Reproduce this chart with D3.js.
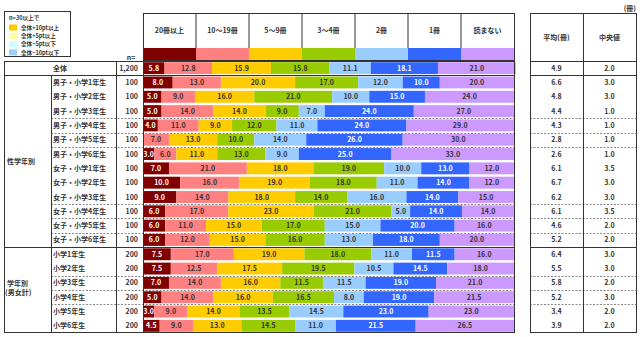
<!DOCTYPE html>
<html>
<head>
<meta charset="utf-8">
<script src="https://cdn.jsdelivr.net/npm/d3@7"></script>
<style>
    body { margin: 0; background: #fff; }
    text { font-family: "Noto Sans CJK JP", sans-serif; font-size: 7px; font-weight: bold; fill: #333; }
    .legend text { font-size: 5.6px; }
</style>
</head>
<body>
<div id="chart"></div>
<script>

// categories (冊数)
const categories = ["20冊以上", "10～19冊", "5～9冊", "3～4冊", "2冊", "1冊", "読まない"];
const colors = ["#800000", "#FF8080", "#FFCC00", "#99CC00", "#99CCFF", "#3366FF", "#CC99FF"];

const rowLabels = ["全体",
    "男子・小学1年生", "男子・小学2年生", "男子・小学3年生", "男子・小学4年生", "男子・小学5年生", "男子・小学6年生",
    "女子・小学1年生", "女子・小学2年生", "女子・小学3年生", "女子・小学4年生", "女子・小学5年生", "女子・小学6年生",
    "小学1年生", "小学2年生", "小学3年生", "小学4年生", "小学5年生", "小学6年生"];
const rowN = ["1,200", "100", "100", "100", "100", "100", "100", "100", "100", "100", "100", "100", "100",
    "200", "200", "200", "200", "200", "200"];

const values = [
    [5.8, 12.8, 15.9, 15.8, 11.1, 18.1, 21.0],
    [8.0, 13.0, 20.0, 17.0, 12.0, 10.0, 20.0],
    [5.0, 9.0, 16.0, 21.0, 10.0, 15.0, 24.0],
    [5.0, 14.0, 14.0, 9.0, 7.0, 24.0, 27.0],
    [4.0, 11.0, 9.0, 12.0, 11.0, 24.0, 29.0],
    [0.0, 7.0, 13.0, 10.0, 14.0, 26.0, 30.0],
    [3.0, 6.0, 11.0, 13.0, 9.0, 25.0, 33.0],
    [7.0, 21.0, 18.0, 19.0, 10.0, 13.0, 12.0],
    [10.0, 16.0, 19.0, 18.0, 11.0, 14.0, 12.0],
    [9.0, 14.0, 18.0, 14.0, 16.0, 14.0, 15.0],
    [6.0, 17.0, 23.0, 21.0, 5.0, 14.0, 14.0],
    [6.0, 11.0, 15.0, 17.0, 15.0, 20.0, 16.0],
    [6.0, 12.0, 15.0, 16.0, 13.0, 18.0, 20.0],
    [7.5, 17.0, 19.0, 18.0, 11.0, 11.5, 16.0],
    [7.5, 12.5, 17.5, 19.5, 10.5, 14.5, 18.0],
    [7.0, 14.0, 16.0, 11.5, 11.5, 19.0, 21.0],
    [5.0, 14.0, 16.0, 16.5, 8.0, 19.0, 21.5],
    [3.0, 9.0, 14.0, 13.5, 14.5, 23.0, 23.0],
    [4.5, 9.0, 13.0, 14.5, 11.0, 21.5, 26.5]
];

const means = [4.9, 6.6, 4.8, 4.4, 4.3, 2.8, 2.6, 6.1, 6.7, 6.2, 6.1, 4.6, 5.2, 6.4, 5.5, 5.8, 5.2, 3.4, 3.9];
const medians = [2.0, 3.0, 3.0, 1.0, 1.0, 1.0, 1.0, 3.5, 3.0, 3.0, 3.5, 2.0, 2.0, 3.0, 3.0, 2.0, 3.0, 2.0, 2.0];

const legendItems = ["全体+10pt以上", "全体+5pt以上", "全体−5pt以下", "全体−10pt以下"];
const legendColors = ["#FFCC00", "#FFFF99", "#CCFFFF", "#99CCFF"];

// rows after which a dashed separator is drawn
const dashedAfter = [3, 4, 5, 9, 10, 11, 14, 15, 16];

const W = 642, H = 337;
const svg = d3.select("#chart").append("svg")
    .attr("width", W)
    .attr("height", H);

const lineColor = "#333";

let x = d3.scaleLinear().domain([0, 100]).range([143, 514]);
let y = d3.scaleBand().domain(d3.range(rowLabels.length)).range([61, 333]);
let hx = d3.scaleBand().domain(categories).range([143, 514]);

// legend
let legend = svg.append("g").attr("class", "legend");
legend.append("rect")
    .attr("x", 4.5).attr("y", 11.5).attr("width", 66).attr("height", 45)
    .attr("fill", "none").attr("stroke", lineColor);
legend.append("text").attr("x", 9).attr("y", 20).text("n=30以上で");
legend.selectAll(".lg")
    .data(legendItems)
    .enter()
    .append("g")
    .attr("transform", (d, i) => `translate(9, ${24.5 + i * 8.3})`)
    .each(function(d, i) {
        d3.select(this).append("rect")
            .attr("width", 8).attr("height", 6)
            .attr("fill", legendColors[i]);
        d3.select(this).append("text")
            .attr("x", 12).attr("y", 5.3).text(d);
    });

svg.append("text").attr("x", 131).attr("y", 60).attr("text-anchor", "middle").text("n=");
svg.append("text").attr("x", 636).attr("y", 11).attr("text-anchor", "end").text("(冊)");

// header of bar columns
let header = svg.append("g").attr("class", "header");
header.selectAll(".swatch")
    .data(categories)
    .enter()
    .append("rect")
    .attr("x", d => hx(d))
    .attr("y", 48)
    .attr("width", hx.bandwidth())
    .attr("height", 12)
    .attr("fill", (d, i) => colors[i]);
header.selectAll(".htext")
    .data(categories)
    .enter()
    .append("text")
    .attr("x", d => hx(d) + hx.bandwidth() / 2)
    .attr("y", 33)
    .attr("text-anchor", "middle")
    .text(d => d);
header.selectAll(".hline")
    .data(categories.slice(1))
    .enter()
    .append("line")
    .attr("x1", d => hx(d)).attr("x2", d => hx(d))
    .attr("y1", 13).attr("y2", 48)
    .attr("stroke", lineColor);
header.append("rect")
    .attr("x", 143.5).attr("y", 13.5).attr("width", 371).attr("height", 47)
    .attr("fill", "none").attr("stroke", lineColor);

// stacked bars
let rows = svg.append("g").attr("class", "bars")
    .selectAll(".row")
    .data(values)
    .enter()
    .append("g")
    .attr("class", "row");

rows.each(function(vals, r) {
    let starts = d3.cumsum([0].concat(vals));
    let segs = vals.map((v, i) => ({v: v, i: i, x0: starts[i]}));
    let g = d3.select(this);
    g.selectAll("rect")
        .data(segs)
        .enter()
        .append("rect")
        .attr("x", d => x(d.x0))
        .attr("y", y(r) + 1.2)
        .attr("width", d => x(d.x0 + d.v) - x(d.x0))
        .attr("height", y.bandwidth() - 2.4)
        .attr("fill", d => colors[d.i]);
    g.selectAll("text")
        .data(segs.filter(d => d.v > 0))
        .enter()
        .append("text")
        .attr("x", d => x(d.x0 + d.v / 2))
        .attr("y", y(r) + y.bandwidth() / 2 + 2.5)
        .attr("text-anchor", "middle")
        .style("fill", d => (d.i === 0 || d.i === 5) ? "#fff" : "#333")
        .text(d => d.v.toFixed(1));
});

// left labels
let labels = svg.append("g").attr("class", "labels");
labels.selectAll(".rl")
    .data(rowLabels)
    .enter()
    .append("text")
    .attr("x", (d, i) => i === 0 ? 60 : 53)
    .attr("y", (d, i) => y(i) + y.bandwidth() / 2 + 2.5)
    .attr("text-anchor", (d, i) => i === 0 ? "middle" : "start")
    .text(d => d);
labels.selectAll(".n")
    .data(rowN)
    .enter()
    .append("text")
    .attr("x", 138)
    .attr("y", (d, i) => y(i) + y.bandwidth() / 2 + 2.5)
    .attr("text-anchor", "end")
    .text(d => d);

labels.append("text").attr("x", 7).attr("y", (y(1) + y(13)) / 2 + 2.5).text("性学年別");
labels.append("text").attr("x", 7).attr("y", 286).text("学年別");
labels.append("text").attr("x", 5).attr("y", 295).text("(男女計)");

// right table
let rt = svg.append("g").attr("class", "right-table");
rt.append("text").attr("x", 556.5).attr("y", 40).attr("text-anchor", "middle").text("平均(冊)");
rt.append("text").attr("x", 609.5).attr("y", 40).attr("text-anchor", "middle").text("中央値");
rt.selectAll(".mean")
    .data(means)
    .enter()
    .append("text")
    .attr("x", 556.5)
    .attr("y", (d, i) => y(i) + y.bandwidth() / 2 + 2.5)
    .attr("text-anchor", "middle")
    .text(d => d.toFixed(1));
rt.selectAll(".median")
    .data(medians)
    .enter()
    .append("text")
    .attr("x", 609.5)
    .attr("y", (d, i) => y(i) + y.bandwidth() / 2 + 2.5)
    .attr("text-anchor", "middle")
    .text(d => d.toFixed(1));

// table lines
let lines = svg.append("g").attr("class", "grid")
    .attr("stroke", lineColor).attr("fill", "none");

// dashed row separators
dashedAfter.forEach(r => {
    let yy = Math.round(y(r + 1)) + 0.5;
    lines.append("line")
        .attr("x1", 51).attr("x2", 514).attr("y1", yy).attr("y2", yy)
        .attr("stroke", "#888").attr("stroke-dasharray", "2,1.5");
    lines.append("line")
        .attr("x1", 530).attr("x2", 636).attr("y1", yy).attr("y2", yy)
        .attr("stroke", "#888").attr("stroke-dasharray", "2,1.5");
});

// solid section lines
[1, 13].forEach(r => {
    let yy = Math.round(y(r)) + 0.5;
    lines.append("line").attr("x1", 4).attr("x2", 514).attr("y1", yy).attr("y2", yy);
    lines.append("line").attr("x1", 530).attr("x2", 636).attr("y1", yy).attr("y2", yy);
});

lines.append("rect").attr("x", 4.5).attr("y", 61.5).attr("width", 510).attr("height", 271);
lines.append("line").attr("x1", 51.5).attr("x2", 51.5).attr("y1", Math.round(y(1))).attr("y2", 333);
lines.append("line").attr("x1", 116.5).attr("x2", 116.5).attr("y1", 61).attr("y2", 333);
lines.append("line").attr("x1", 143.5).attr("x2", 143.5).attr("y1", 61).attr("y2", 333);

lines.append("rect").attr("x", 530.5).attr("y", 13.5).attr("width", 106).attr("height", 319);
lines.append("line").attr("x1", 583.5).attr("x2", 583.5).attr("y1", 13).attr("y2", 333);
lines.append("line").attr("x1", 530).attr("x2", 636).attr("y1", 61.5).attr("y2", 61.5);

</script>
</body>
</html>
